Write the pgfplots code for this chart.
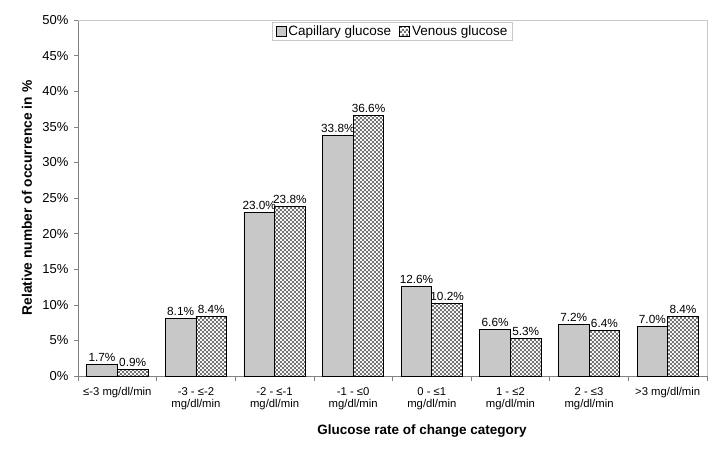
\documentclass[border=0pt]{standalone}
\usepackage{pgfplots}
\pgfplotsset{compat=1.18}
\usepackage{fontspec}
\setmainfont{Liberation Sans}
\usetikzlibrary{patterns}
\definecolor{capfill}{RGB}{200,200,200}
\definecolor{axgray}{RGB}{130,130,130}
\definecolor{lightax}{RGB}{200,200,200}
\definecolor{checkc}{RGB}{115,115,115}
\pgfdeclarepatternformonly{finecheck}{\pgfpointorigin}{\pgfqpoint{4.4bp}{4.4bp}}{\pgfqpoint{4.4bp}{4.4bp}}{%
  \pgfpathrectangle{\pgfpointorigin}{\pgfqpoint{2.2bp}{2.2bp}}%
  \pgfpathrectangle{\pgfqpoint{2.2bp}{2.2bp}}{\pgfqpoint{2.2bp}{2.2bp}}%
  \pgfusepath{fill}}
\begin{document}
\begin{tikzpicture}
\begin{axis}[
  scale only axis,
  width=629bp, height=356bp,
  xmin=-0.5, xmax=7.5,
  ymin=0, ymax=50,
  axis x line*=bottom, axis y line*=left,
  axis line style={axgray, line width=0.8bp},
  ytick={0,5,...,50},
  yticklabel={\pgfmathprintnumber{\tick}\%},
  /pgf/number format/assume math mode=true,
  xtick={0,...,7},
  xticklabels={{≤-3 mg/dl/min},{-3 - ≤-2\\mg/dl/min},{-2 - ≤-1\\mg/dl/min},{-1 - ≤0\\mg/dl/min},{0 - ≤1\\mg/dl/min},{1 - ≤2\\mg/dl/min},{2 - ≤3\\mg/dl/min},{>3 mg/dl/min}},
  minor xtick={-0.5,0.5,...,7.5},
  tick align=outside,
  x tick style={draw=none},
  minor x tick style={draw=axgray, line width=0.6bp},
  minor tick length=5bp,
  y tick style={draw=axgray, line width=0.6bp},
  major tick length=4bp,
  xticklabel style={align=center, font=\fontsize{11.3bp}{12.5bp}\selectfont, anchor=north, yshift=-4bp},
  yticklabel style={font=\fontsize{13bp}{15bp}\selectfont, xshift=-2bp},
  xlabel={Glucose rate of change category},
  ylabel={Relative number of occurrence in \%},
  every axis x label/.style={at={(axis description cs:0.547,0)}, yshift=-55bp, anchor=center, font=\fontsize{13.5bp}{16bp}\selectfont\bfseries},
  every axis y label/.style={at={(axis description cs:0,0.5)}, xshift=-51bp, rotate=90, anchor=center, font=\fontsize{13.8bp}{16bp}\selectfont\bfseries},
  ybar,
  bar width=0.39,
  nodes near coords={\pgfmathprintnumber[fixed,fixed zerofill,precision=1]{\pgfplotspointmeta}\%},
  every node near coord/.append style={font=\fontsize{11.8bp}{14bp}\selectfont, black, yshift=-1bp},
  legend style={at={(0.5,1)}, anchor=north, yshift=-2bp, draw=lightax, line width=0.8bp, legend columns=2, font=\fontsize{13.5bp}{15bp}\selectfont, inner xsep=3bp, inner ysep=1.5bp, /tikz/every even column/.append style={column sep=6bp}},
  legend image code/.code={\draw[#1] (0bp,-5bp) rectangle (10bp,5bp);},
  clip=false,
]
\addplot[bar shift=-0.195, fill=capfill, draw=black, line width=0.8bp] coordinates {(0,1.7) (1,8.1) (2,23.0) (3,33.8) (4,12.6) (5,6.6) (6,7.2) (7,7.0)};
\addlegendentry{Capillary glucose}
\addplot[bar shift=0.195, pattern=finecheck, pattern color=checkc, draw=black, line width=0.8bp] coordinates {(0,0.9) (1,8.4) (2,23.8) (3,36.6) (4,10.2) (5,5.3) (6,6.4) (7,8.4)};
\addlegendentry{Venous glucose}
\draw[lightax, line width=0.8bp] (rel axis cs:0,1) -- (rel axis cs:1,1) -- (rel axis cs:1,0);
\coordinate (sw) at (rel axis cs:0,0);
\coordinate (ne) at (rel axis cs:1,1);
\end{axis}
\pgfresetboundingbox
\path ([shift={(-78bp,-75bp)}]sw) rectangle ([shift={(17bp,20bp)}]ne);
\end{tikzpicture}
\end{document}
